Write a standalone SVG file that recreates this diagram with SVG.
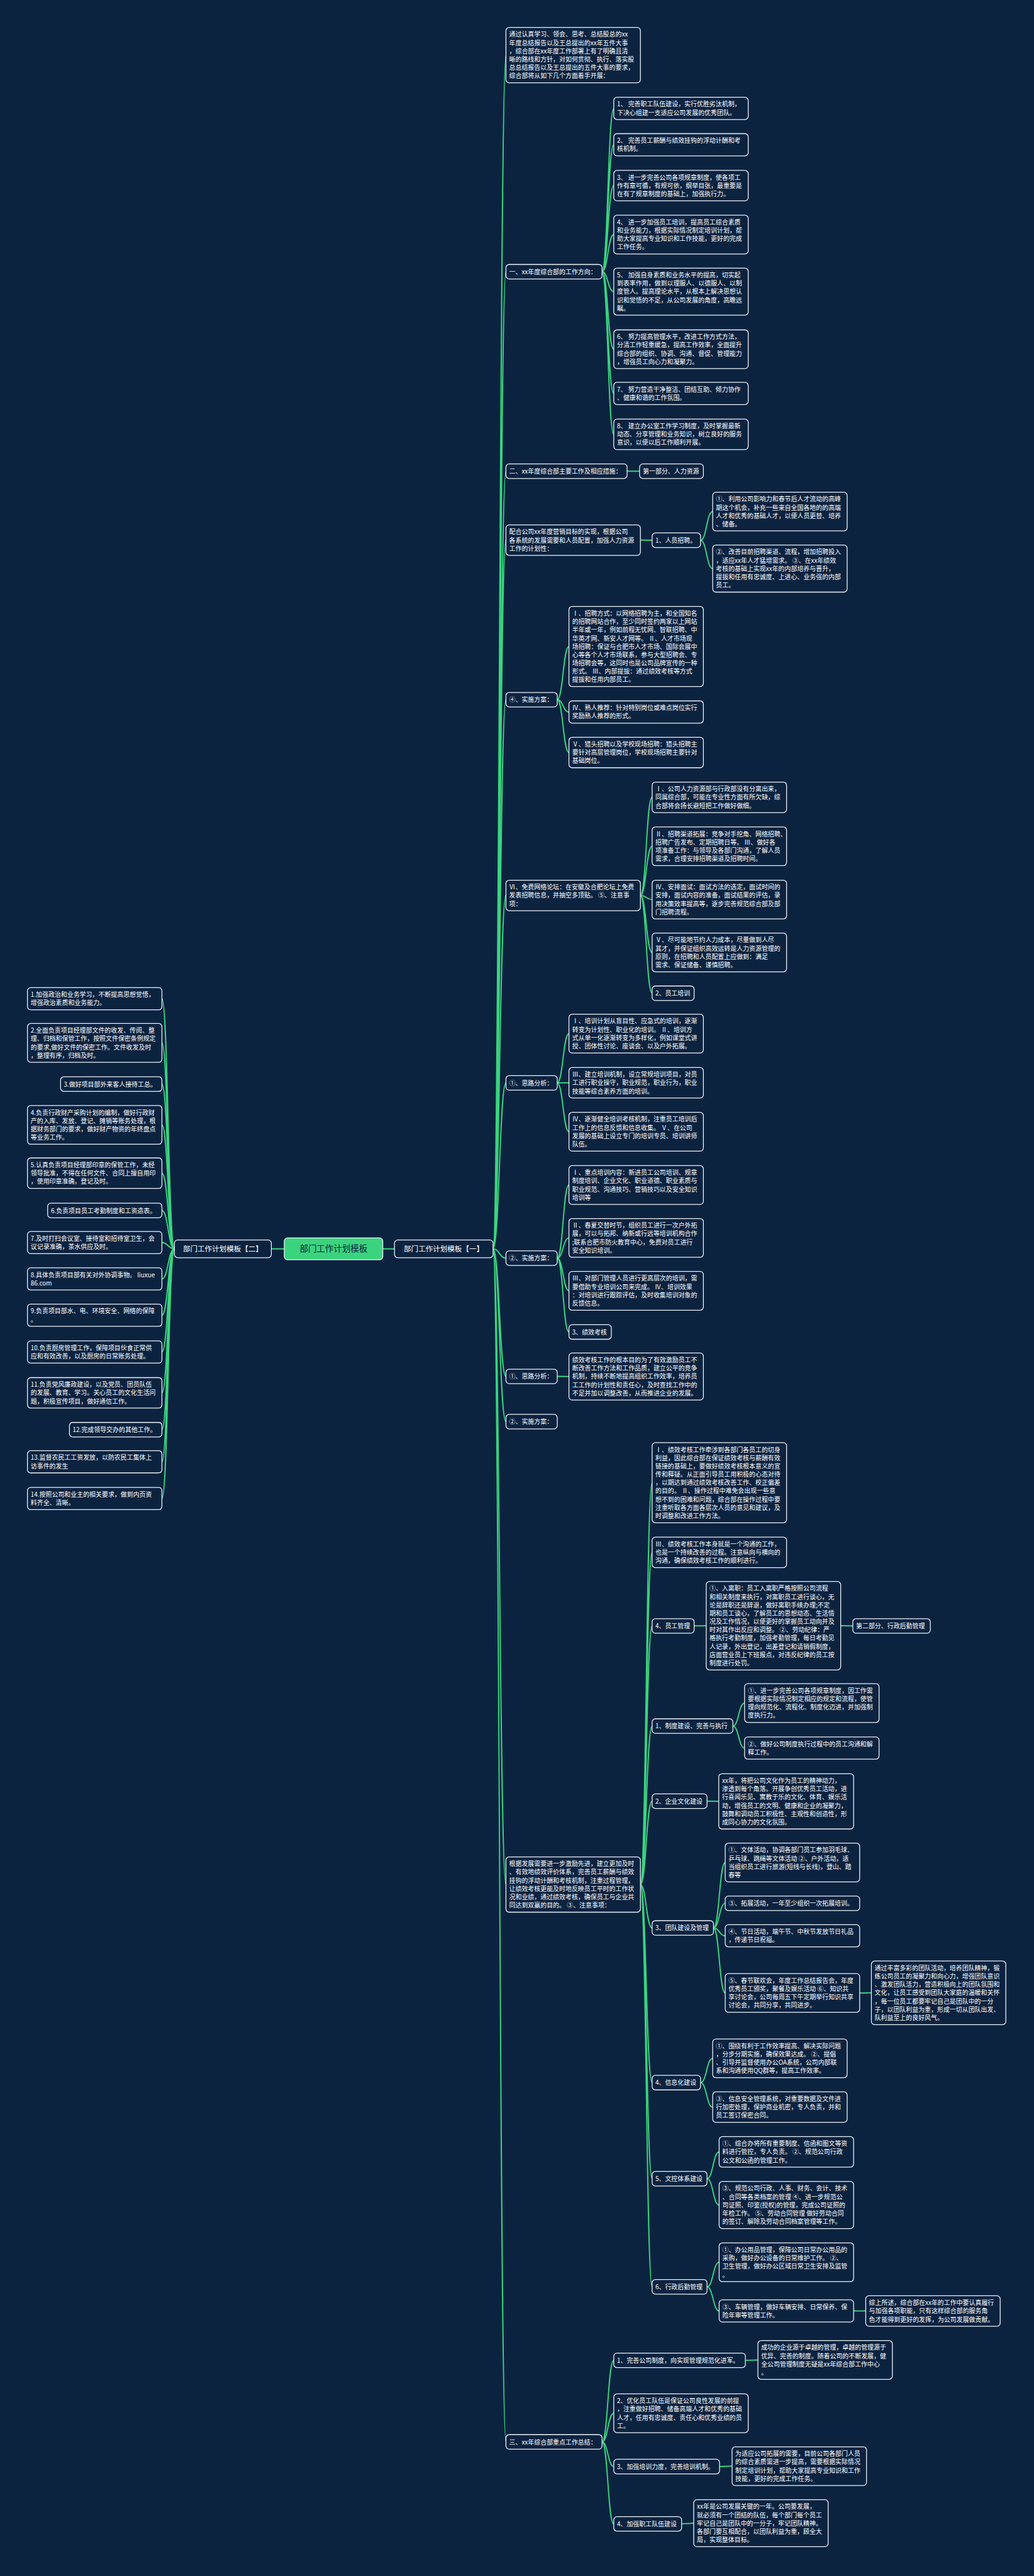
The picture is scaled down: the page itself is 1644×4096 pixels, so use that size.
<svg xmlns="http://www.w3.org/2000/svg" width="1644" height="4096" viewBox="0 0 1644 4096">
<style>
.n rect{fill:#0c2340;stroke:#eef3f8;stroke-width:2}
.n text{fill:#ffffff;font-family:"Noto Sans CJK SC","Noto Sans",sans-serif;font-size:15.5px}
.c path{fill:none;stroke:#3bd47e;stroke-width:3}
.big text{font-size:18px}
</style>
<rect x="0" y="0" width="1644" height="4096" fill="#0c2340"/>
<g transform="scale(0.642)">
<g id="connectors" class="c">
<path d="M704 3093L672 3093M948 3093L977 3093"/>
<path d="M1221 3093C1237 3093 1237 136.5 1253 136.5M1221 3093C1237 3093 1237 673 1253 673M1221 3093C1237 3093 1237 1167 1253 1167M1221 3093C1237 3093 1237 1337.75 1253 1337.75M1221 3093C1237 3093 1237 1733 1253 1733M1221 3093C1237 3093 1237 2217.75 1253 2217.75M1221 3093C1237 3093 1237 2682 1253 2682M1221 3093C1237 3093 1237 3116 1253 3116M1221 3093C1237 3093 1237 3409 1253 3409M1221 3093C1237 3093 1237 3521 1253 3521M1221 3093C1237 3093 1237 4667.5 1253 4667.5M1221 3093C1237 3093 1237 6048 1253 6048"/>
<path d="M1491 673C1505.5 673 1505.5 268.5 1520 268.5M1491 673C1505.5 673 1505.5 358.5 1520 358.5M1491 673C1505.5 673 1505.5 459.75 1520 459.75M1491 673C1505.5 673 1505.5 581 1520 581M1491 673C1505.5 673 1505.5 722.25 1520 722.25M1491 673C1505.5 673 1505.5 865 1520 865M1491 673C1505.5 673 1505.5 974.5 1520 974.5M1491 673C1505.5 673 1505.5 1075.75 1520 1075.75"/>
<path d="M1553 1167L1584 1167M1586 1337.75L1615 1338M1735 1338C1750 1338 1750 1267 1765 1267M1735 1338C1750 1338 1750 1408.25 1765 1408.25"/>
<path d="M1380 1733C1394.5 1733 1394.5 1601.25 1409 1601.25M1380 1733C1394.5 1733 1394.5 1763.5 1409 1763.5M1380 1733C1394.5 1733 1394.5 1863.75 1409 1863.75"/>
<path d="M1586 2217.75C1600.5 2217.75 1600.5 1974.75 1615 1974.75M1586 2217.75C1600.5 2217.75 1600.5 2096 1615 2096M1586 2217.75C1600.5 2217.75 1600.5 2228 1615 2228M1586 2217.75C1600.5 2217.75 1600.5 2359 1615 2359M1586 2217.75C1600.5 2217.75 1600.5 2460 1615 2460"/>
<path d="M1380 2682C1394.5 2682 1394.5 2560 1409 2560M1380 2682C1394.5 2682 1394.5 2681.75 1409 2681.75M1380 2682C1394.5 2682 1394.5 2803 1409 2803"/>
<path d="M1380 3116C1394.5 3116 1394.5 2935 1409 2935M1380 3116C1394.5 3116 1394.5 3066 1409 3066M1380 3116C1394.5 3116 1394.5 3197 1409 3197M1380 3116C1394.5 3116 1394.5 3299 1409 3299M1380 3409L1409 3409.25"/>
<path d="M1586 4667.5C1600.5 4667.5 1600.5 3672.25 1615 3672.25M1586 4667.5C1600.5 4667.5 1600.5 3844.75 1615 3844.75M1586 4667.5C1600.5 4667.5 1600.5 4027 1615 4027M1586 4667.5C1600.5 4667.5 1600.5 4275 1615 4275M1586 4667.5C1600.5 4667.5 1600.5 4461 1615 4461M1586 4667.5C1600.5 4667.5 1600.5 4775 1615 4775M1586 4667.5C1600.5 4667.5 1600.5 5158 1615 5158M1586 4667.5C1600.5 4667.5 1600.5 5396 1615 5396M1586 4667.5C1600.5 4667.5 1600.5 5664 1615 5664"/>
<path d="M1719 4027L1749 4026.5M2082 4026.5L2112 4027M1815 4275C1829.5 4275 1829.5 4218 1844 4218M1815 4275C1829.5 4275 1829.5 4329.5 1844 4329.5M1751 4461L1780 4461.5"/>
<path d="M1767 4775C1781.5 4775 1781.5 4613 1796 4613M1767 4775C1781.5 4775 1781.5 4714 1796 4714M1767 4775C1781.5 4775 1781.5 4794.5 1796 4794.5M1767 4775C1781.5 4775 1781.5 4936 1796 4936M2129 4936L2158 4935.75"/>
<path d="M1735 5158C1750 5158 1750 5098 1765 5098M1735 5158C1750 5158 1750 5218.75 1765 5218.75M1751 5396C1766 5396 1766 5329.75 1781 5329.75M1751 5396C1766 5396 1766 5461.25 1781 5461.25M1751 5664C1766 5664 1766 5603 1781 5603M1751 5664C1766 5664 1766 5723.5 1781 5723.5M2114 5723.5L2144 5723.75"/>
<path d="M1491 6048C1505.5 6048 1505.5 5846 1520 5846M1491 6048C1505.5 6048 1505.5 5977 1520 5977M1491 6048C1505.5 6048 1505.5 6109 1520 6109M1491 6048C1505.5 6048 1505.5 6251 1520 6251M1846 5846L1877 5845M1782 6109L1813 6108M1688 6251L1718 6249.25"/>
<path d="M432 3093C416.5 3093 416.5 2473.5 401 2473.5M432 3093C416.5 3093 416.5 2583 401 2583M432 3093C416.5 3093 416.5 2685 401 2685M432 3093C416.5 3093 416.5 2786 401 2786M432 3093C416.5 3093 416.5 2905.75 401 2905.75M432 3093C416.5 3093 416.5 2998 401 2998M432 3093C416.5 3093 416.5 3077.5 401 3077.5M432 3093C416.5 3093 416.5 3167.5 401 3167.5M432 3093C416.5 3093 416.5 3257.5 401 3257.5M432 3093C416.5 3093 416.5 3348.5 401 3348.5M432 3093C416.5 3093 416.5 3449.75 401 3449.75M432 3093C416.5 3093 416.5 3541 401 3541M432 3093C416.5 3093 416.5 3620.5 401 3620.5M432 3093C416.5 3093 416.5 3711.5 401 3711.5"/>
</g>

<g id="root" class="n big"><rect x="704" y="3066" width="244" height="54" rx="8" style="fill:#3bd47e"/><text x="826" y="3100" text-anchor="middle" style="font-size:21px;fill:#0c2340">部门工作计划模板</text></g>
<g id="q2" class="n big"><rect x="432" y="3071" width="240" height="44" rx="8"/><text x="552" y="3099" text-anchor="middle">部门工作计划模板【二】</text></g>
<g id="q1" class="n big"><rect x="977" y="3071" width="244" height="44" rx="8"/><text x="1099" y="3099" text-anchor="middle">部门工作计划模板【一】</text></g>

<g id="p1" class="n"><rect x="68" y="2446" width="333" height="55" rx="8"/><text x="76" y="2469"><tspan>1.加强政治和业务学习，不断提高思想觉悟，</tspan><tspan x="76" dy="20.5">增强政治素质和业务能力。</tspan></text></g>
<g id="p2" class="n"><rect x="68" y="2535" width="333" height="96" rx="8"/><text x="76" y="2558"><tspan>2.全面负责项目经理部文件的收发、传阅、整</tspan><tspan x="76" dy="20.5">理、归档和保管工作，按照文件保密条例规定</tspan><tspan x="76" dy="20.5">的要求,做好文件的保密工作。文件收发及时</tspan><tspan x="76" dy="20.5">，整理有序，归档及时。</tspan></text></g>
<g id="p3" class="n"><rect x="150" y="2667" width="251" height="36" rx="8"/><text x="158" y="2691">3.做好项目部外来客人接待工总。</text></g>
<g id="p4" class="n"><rect x="68" y="2738" width="333" height="96" rx="8"/><text x="76" y="2761"><tspan>4.负责行政财产采购计划的编制，做好行政财</tspan><tspan x="76" dy="20.5">产的入库、发放、登记、摊销等账务处理，根</tspan><tspan x="76" dy="20.5">据财务部门的要求，做好财产物资的年终盘点</tspan><tspan x="76" dy="20.5">等业务工作。</tspan></text></g>
<g id="p5" class="n"><rect x="68" y="2868" width="333" height="75.5" rx="8"/><text x="76" y="2891"><tspan>5.认真负责项目经理部印章的保管工作，未经</tspan><tspan x="76" dy="20.5">领导批准，不得在任何文件、合同上擅自用印</tspan><tspan x="76" dy="20.5">，使用印章准确，登记及时。</tspan></text></g>
<g id="p6" class="n"><rect x="118" y="2980" width="283" height="36" rx="8"/><text x="126" y="3004">6.负责项目员工考勤制度和工资造表。</text></g>
<g id="p7" class="n"><rect x="68" y="3050" width="333" height="55" rx="8"/><text x="76" y="3073"><tspan>7.及时打扫会议室、接待室和招待室卫生，会</tspan><tspan x="76" dy="20.5">议记录准确，茶水供应及时。</tspan></text></g>
<g id="p8" class="n"><rect x="68" y="3140" width="333" height="55" rx="8"/><text x="76" y="3163"><tspan>8.具体负责项目部有关对外协调事物。 liuxue</tspan><tspan x="76" dy="20.5">86.com</tspan></text></g>
<g id="p9" class="n"><rect x="68" y="3230" width="333" height="55" rx="8"/><text x="76" y="3253"><tspan>9.负责项目部水、电、环境安全、网络的保障</tspan><tspan x="76" dy="20.5">。</tspan></text></g>
<g id="p10" class="n"><rect x="68" y="3321" width="333" height="55" rx="8"/><text x="76" y="3344"><tspan>10.负责厨房管理工作，保障项目伙食正常供</tspan><tspan x="76" dy="20.5">应和有效改善，以及厨房的日常账务处理。</tspan></text></g>
<g id="p11" class="n"><rect x="68" y="3412" width="333" height="75.5" rx="8"/><text x="76" y="3435"><tspan>11.负责党风廉政建设，以及党员、团员队伍</tspan><tspan x="76" dy="20.5">的发展、教育、学习。关心员工的文化生活问</tspan><tspan x="76" dy="20.5">题，积极宣传项目，做好通信工作。</tspan></text></g>
<g id="p12" class="n"><rect x="172" y="3523" width="229" height="36" rx="8"/><text x="180" y="3547">12.完成领导交办的其他工作。</text></g>
<g id="p13" class="n"><rect x="68" y="3593" width="333" height="55" rx="8"/><text x="76" y="3616"><tspan>13.监督农民工工资发放，以防农民工集体上</tspan><tspan x="76" dy="20.5">访事件的发生</tspan></text></g>
<g id="p14" class="n"><rect x="68" y="3684" width="333" height="55" rx="8"/><text x="76" y="3707"><tspan>14.按照公司和业主的相关要求，做到内页资</tspan><tspan x="76" dy="20.5">料齐全、清晰。</tspan></text></g>

<g id="a0" class="n"><rect x="1253" y="68" width="333" height="137" rx="8"/><text x="1261" y="91"><tspan>通过认真学习、领会、思考、总结股总的xx</tspan><tspan x="1261" dy="20.5">年度总结报告以及王总提出的xx年五件大事</tspan><tspan x="1261" dy="20.5">，综合部在xx年度工作部署上有了明确且清</tspan><tspan x="1261" dy="20.5">晰的路线和方针，对如何贯彻、执行、落实股</tspan><tspan x="1261" dy="20.5">总总结报告以及王总提出的五件大事的要求，</tspan><tspan x="1261" dy="20.5">综合部将从如下几个方面着手开展：</tspan></text></g>
<g id="a1" class="n"><rect x="1253" y="655" width="238" height="36" rx="8"/><text x="1261" y="679">一、xx年度综合部的工作方向：</text></g>
<g id="c1" class="n"><rect x="1520" y="241" width="333" height="55" rx="8"/><text x="1528" y="264"><tspan>1、 完善职工队伍建设，实行优胜劣汰机制，</tspan><tspan x="1528" dy="20.5">下决心组建一支适应公司发展的优秀团队。</tspan></text></g>
<g id="c2" class="n"><rect x="1520" y="331" width="333" height="55" rx="8"/><text x="1528" y="354"><tspan>2、 完善员工薪酬与绩效挂钩的浮动计酬和考</tspan><tspan x="1528" dy="20.5">核机制。</tspan></text></g>
<g id="c3" class="n"><rect x="1520" y="422" width="333" height="75.5" rx="8"/><text x="1528" y="445"><tspan>3、 进一步完善公司各项规章制度，使各项工</tspan><tspan x="1528" dy="20.5">作有章可循，有规可依，纲举目张，最重要是</tspan><tspan x="1528" dy="20.5">在有了规章制度的基础上，加强执行力。</tspan></text></g>
<g id="c4" class="n"><rect x="1520" y="533" width="333" height="96" rx="8"/><text x="1528" y="556"><tspan>4、 进一步加强员工培训，提高员工综合素质</tspan><tspan x="1528" dy="20.5">和业务能力，根据实际情况制定培训计划，帮</tspan><tspan x="1528" dy="20.5">助大家提高专业知识和工作技能，更好的完成</tspan><tspan x="1528" dy="20.5">工作任务。</tspan></text></g>
<g id="c5" class="n"><rect x="1520" y="664" width="333" height="116.5" rx="8"/><text x="1528" y="687"><tspan>5、 加强自身素质和业务水平的提高，切实起</tspan><tspan x="1528" dy="20.5">到表率作用，做到以理服人、以德服人、以制</tspan><tspan x="1528" dy="20.5">度管人。提高理论水平，从根本上解决思想认</tspan><tspan x="1528" dy="20.5">识和觉悟的不足，从公司发展的角度，高瞻远</tspan><tspan x="1528" dy="20.5">瞩。</tspan></text></g>
<g id="c6" class="n"><rect x="1520" y="817" width="333" height="96" rx="8"/><text x="1528" y="840"><tspan>6、 努力提高管理水平，改进工作方式方法，</tspan><tspan x="1528" dy="20.5">分清工作轻重缓急，提高工作效率，全面提升</tspan><tspan x="1528" dy="20.5">综合部的组织、协调、沟通、督促、管理能力</tspan><tspan x="1528" dy="20.5">，增强员工向心力和凝聚力。</tspan></text></g>
<g id="c7" class="n"><rect x="1520" y="947" width="333" height="55" rx="8"/><text x="1528" y="970"><tspan>7、 努力营造干净整洁、团结互助、倾力协作</tspan><tspan x="1528" dy="20.5">、健康和谐的工作氛围。</tspan></text></g>
<g id="c8" class="n"><rect x="1520" y="1038" width="333" height="75.5" rx="8"/><text x="1528" y="1061"><tspan>8、 建立办公室工作学习制度，及时掌握最新</tspan><tspan x="1528" dy="20.5">动态、分享管理和业务知识，树立良好的服务</tspan><tspan x="1528" dy="20.5">意识，以便以后工作顺利开展。</tspan></text></g>

<g id="a2" class="n"><rect x="1253" y="1149" width="300" height="36" rx="8"/><text x="1261" y="1173">二、xx年度综合部主要工作及相应措施：</text></g>
<g id="b1" class="n"><rect x="1584" y="1149" width="158" height="36" rx="8"/><text x="1592" y="1173">第一部分、人力资源</text></g>
<g id="a3" class="n"><rect x="1253" y="1300" width="333" height="75.5" rx="8"/><text x="1261" y="1323"><tspan>配合公司xx年度营销目标的实现，根据公司</tspan><tspan x="1261" dy="20.5">各系统的发展需要和人员配置，加强人力资源</tspan><tspan x="1261" dy="20.5">工作的计划性：</tspan></text></g>
<g id="b2" class="n"><rect x="1615" y="1320" width="120" height="36" rx="8"/><text x="1623" y="1344">1、人员招聘。</text></g>
<g id="cc1" class="n"><rect x="1765" y="1219" width="333" height="96" rx="8"/><text x="1773" y="1242"><tspan>①、利用公司影响力和春节后人才流动的高峰</tspan><tspan x="1773" dy="20.5">期这个机会，补充一些来自全国各地的的高端</tspan><tspan x="1773" dy="20.5">人才和优秀的基础人才，以便人员更替、培养</tspan><tspan x="1773" dy="20.5">、储备。</tspan></text></g>
<g id="cc2" class="n"><rect x="1765" y="1350" width="333" height="116.5" rx="8"/><text x="1773" y="1373"><tspan>②、改善目前招聘渠道、流程，增加招聘投入</tspan><tspan x="1773" dy="20.5">，适应xx年人才猛增需求。 ③、在xx年绩效</tspan><tspan x="1773" dy="20.5">考核的基础上实现xx年的内部培养与晋升，</tspan><tspan x="1773" dy="20.5">提拔和任用有忠诚度、上进心、业务强的内部</tspan><tspan x="1773" dy="20.5">员工。</tspan></text></g>

<g id="a4" class="n"><rect x="1253" y="1715" width="127" height="36" rx="8"/><text x="1261" y="1739">④、实施方案：</text></g>
<g id="d1" class="n"><rect x="1409" y="1502" width="333" height="198.5" rx="8"/><text x="1417" y="1525"><tspan>Ⅰ、招聘方式：以网络招聘为主，和全国知名</tspan><tspan x="1417" dy="20.5">的招聘网站合作，至少同时签约两家以上网站</tspan><tspan x="1417" dy="20.5">半年或一年，例如前程无忧网、智联招聘、中</tspan><tspan x="1417" dy="20.5">华英才网、新安人才网等。 Ⅱ、人才市场现</tspan><tspan x="1417" dy="20.5">场招聘：保证与合肥市人才市场、国际会展中</tspan><tspan x="1417" dy="20.5">心等各个人才市场联系，参与大型招聘会、专</tspan><tspan x="1417" dy="20.5">场招聘会等，这同时也是公司品牌宣传的一种</tspan><tspan x="1417" dy="20.5">形式。 Ⅲ、内部提拔：通过绩效考核等方式</tspan><tspan x="1417" dy="20.5">提拔和任用内部员工。</tspan></text></g>
<g id="d2" class="n"><rect x="1409" y="1736" width="333" height="55" rx="8"/><text x="1417" y="1759"><tspan>Ⅳ、熟人推荐：针对特别岗位或难点岗位实行</tspan><tspan x="1417" dy="20.5">奖励熟人推荐的形式。</tspan></text></g>
<g id="d3" class="n"><rect x="1409" y="1826" width="333" height="75.5" rx="8"/><text x="1417" y="1849"><tspan>Ⅴ、猎头招聘以及学校现场招聘：猎头招聘主</tspan><tspan x="1417" dy="20.5">要针对高层管理岗位，学校现场招聘主要针对</tspan><tspan x="1417" dy="20.5">基础岗位。</tspan></text></g>

<g id="a5" class="n"><rect x="1253" y="2180" width="333" height="75.5" rx="8"/><text x="1261" y="2203"><tspan>Ⅵ、免费网络论坛：在安徽及合肥论坛上免费</tspan><tspan x="1261" dy="20.5">发表招聘信息，并抽空多顶贴。 ⑤、注意事</tspan><tspan x="1261" dy="20.5">项：</tspan></text></g>
<g id="e1" class="n"><rect x="1615" y="1937" width="333" height="75.5" rx="8"/><text x="1623" y="1960"><tspan>Ⅰ、公司人力资源部与行政部没有分离出来，</tspan><tspan x="1623" dy="20.5">同属综合部，可能在专业性方面有所欠缺，综</tspan><tspan x="1623" dy="20.5">合部将会扬长避短把工作做好做细。</tspan></text></g>
<g id="e2" class="n"><rect x="1615" y="2048" width="333" height="96" rx="8"/><text x="1623" y="2071"><tspan>Ⅱ、招聘渠道拓展：竞争对手挖角、网络招聘、</tspan><tspan x="1623" dy="20.5">招聘广告发布、定期招聘日等。 Ⅲ、做好各</tspan><tspan x="1623" dy="20.5">项准备工作：与领导及各部门沟通，了解人员</tspan><tspan x="1623" dy="20.5">需求，合理安排招聘渠道及招聘时间。</tspan></text></g>
<g id="e3" class="n"><rect x="1615" y="2180" width="333" height="96" rx="8"/><text x="1623" y="2203"><tspan>Ⅳ、安排面试：面试方法的选定，面试时间的</tspan><tspan x="1623" dy="20.5">安排，面试内容的准备，面试结果的评估，录</tspan><tspan x="1623" dy="20.5">用决策效率提高等，逐步完善规范综合部及部</tspan><tspan x="1623" dy="20.5">门招聘流程。</tspan></text></g>
<g id="e4" class="n"><rect x="1615" y="2311" width="333" height="96" rx="8"/><text x="1623" y="2334"><tspan>Ⅴ、尽可能地节约人力成本，尽量做到人尽</tspan><tspan x="1623" dy="20.5">其才，并保证组织高效运转是人力资源管理的</tspan><tspan x="1623" dy="20.5">原则，在招聘和人员配置上应做到：满足</tspan><tspan x="1623" dy="20.5">需求、保证储备、谨慎招聘。</tspan></text></g>
<g id="e5" class="n"><rect x="1615" y="2442" width="104" height="36" rx="8"/><text x="1623" y="2466">2、员工培训</text></g>

<g id="a6" class="n"><rect x="1253" y="2664" width="127" height="36" rx="8"/><text x="1261" y="2688">①、思路分析：</text></g>
<g id="f1" class="n"><rect x="1409" y="2512" width="333" height="96" rx="8"/><text x="1417" y="2535"><tspan>Ⅰ、培训计划从盲目性、应急式的培训，逐渐</tspan><tspan x="1417" dy="20.5">转变为计划性、职业化的培训。 Ⅱ、培训方</tspan><tspan x="1417" dy="20.5">式从单一化逐渐转变为多样化，例如课堂式讲</tspan><tspan x="1417" dy="20.5">授、团体性讨论、座谈会、以及户外拓展。</tspan></text></g>
<g id="f2" class="n"><rect x="1409" y="2644" width="333" height="75.5" rx="8"/><text x="1417" y="2667"><tspan>Ⅲ、建立培训机制，设立常规培训项目，对员</tspan><tspan x="1417" dy="20.5">工进行职业操守，职业规范，职业行为，职业</tspan><tspan x="1417" dy="20.5">技能等综合素养方面的培训。</tspan></text></g>
<g id="f3" class="n"><rect x="1409" y="2755" width="333" height="96" rx="8"/><text x="1417" y="2778"><tspan>Ⅳ、逐渐健全培训考核机制，注重员工培训后</tspan><tspan x="1417" dy="20.5">工作上的信息反馈和信息收集。 Ⅴ、在公司</tspan><tspan x="1417" dy="20.5">发展的基础上设立专门的培训专员、培训讲师</tspan><tspan x="1417" dy="20.5">队伍。</tspan></text></g>

<g id="a7" class="n"><rect x="1253" y="3098" width="127" height="36" rx="8"/><text x="1261" y="3122">②、实施方案：</text></g>
<g id="g1" class="n"><rect x="1409" y="2887" width="333" height="96" rx="8"/><text x="1417" y="2910"><tspan>Ⅰ、重点培训内容：新进员工公司培训、规章</tspan><tspan x="1417" dy="20.5">制度培训、企业文化、职业道德、职业素质与</tspan><tspan x="1417" dy="20.5">职业规范、沟通技巧、营销技巧以及安全知识</tspan><tspan x="1417" dy="20.5">培训等</tspan></text></g>
<g id="g2" class="n"><rect x="1409" y="3018" width="333" height="96" rx="8"/><text x="1417" y="3041"><tspan>Ⅱ、春夏交替时节，组织员工进行一次户外拓</tspan><tspan x="1417" dy="20.5">展，可以与拓邦、纳新或行远等培训机构合作</tspan><tspan x="1417" dy="20.5">;联系合肥市防火教育中心，免费对员工进行</tspan><tspan x="1417" dy="20.5">安全知识培训。</tspan></text></g>
<g id="g3" class="n"><rect x="1409" y="3149" width="333" height="96" rx="8"/><text x="1417" y="3172"><tspan>Ⅲ、对部门管理人员进行更高层次的培训，需</tspan><tspan x="1417" dy="20.5">要借助专业培训公司来完成。 Ⅳ、培训效果</tspan><tspan x="1417" dy="20.5">：对培训进行跟踪评估，及时收集培训对象的</tspan><tspan x="1417" dy="20.5">反馈信息。</tspan></text></g>
<g id="g4" class="n"><rect x="1409" y="3281" width="105" height="36" rx="8"/><text x="1417" y="3305">3、绩效考核</text></g>

<g id="a8" class="n"><rect x="1253" y="3391" width="127" height="36" rx="8"/><text x="1261" y="3415">①、思路分析：</text></g>
<g id="h1" class="n"><rect x="1409" y="3351" width="333" height="116.5" rx="8"/><text x="1417" y="3374"><tspan>绩效考核工作的根本目的为了有效激励员工不</tspan><tspan x="1417" dy="20.5">断改善工作方法和工作品质，建立公平的竞争</tspan><tspan x="1417" dy="20.5">机制，持续不断地提高组织工作效率，培养员</tspan><tspan x="1417" dy="20.5">工工作的计划性和责任心，及时查找工作中的</tspan><tspan x="1417" dy="20.5">不足并加以调整改善，从而推进企业的发展。</tspan></text></g>
<g id="a9" class="n"><rect x="1253" y="3503" width="127" height="36" rx="8"/><text x="1261" y="3527">②、实施方案：</text></g>

<g id="a10" class="n"><rect x="1253" y="4599" width="333" height="137" rx="8"/><text x="1261" y="4622"><tspan>根据发展需要进一步激励先进，建立更加及时</tspan><tspan x="1261" dy="20.5">、有效地绩效评价体系，完善员工薪酬与绩效</tspan><tspan x="1261" dy="20.5">挂钩的浮动计酬和考核机制，注重过程管理，</tspan><tspan x="1261" dy="20.5">让绩效考核更能及时地反映员工平时的工作状</tspan><tspan x="1261" dy="20.5">况和业绩，通过绩效考核，确保员工与企业共</tspan><tspan x="1261" dy="20.5">同达到双赢的目的。 ③、注意事项：</tspan></text></g>
<g id="i1" class="n"><rect x="1615" y="3573" width="333" height="198.5" rx="8"/><text x="1623" y="3596"><tspan>Ⅰ、绩效考核工作牵涉到各部门各员工的切身</tspan><tspan x="1623" dy="20.5">利益，因此综合部在保证绩效考核与薪酬有效</tspan><tspan x="1623" dy="20.5">链接的基础上，要做好绩效考核根本意义的宣</tspan><tspan x="1623" dy="20.5">传和释疑。从正面引导员工用积极的心态对待</tspan><tspan x="1623" dy="20.5">，以期达到通过绩效考核改善工作、校正偏差</tspan><tspan x="1623" dy="20.5">的目的。 Ⅱ、操作过程中难免会出现一些意</tspan><tspan x="1623" dy="20.5">想不到的困难和问题，综合部在操作过程中要</tspan><tspan x="1623" dy="20.5">注重听取各方面各层次人员的意见和建议，及</tspan><tspan x="1623" dy="20.5">时调整和改进工作方法。</tspan></text></g>
<g id="i2" class="n"><rect x="1615" y="3807" width="333" height="75.5" rx="8"/><text x="1623" y="3830"><tspan>Ⅲ、绩效考核工作本身就是一个沟通的工作，</tspan><tspan x="1623" dy="20.5">也是一个持续改善的过程。注意纵向与横向的</tspan><tspan x="1623" dy="20.5">沟通，确保绩效考核工作的顺利进行。</tspan></text></g>
<g id="i3" class="n"><rect x="1615" y="4009" width="104" height="36" rx="8"/><text x="1623" y="4033">4、员工管理</text></g>
<g id="j1" class="n"><rect x="1749" y="3917" width="333" height="219" rx="8"/><text x="1757" y="3940"><tspan>①、入离职：员工入离职严格按照公司流程</tspan><tspan x="1757" dy="20.5">和相关制度来执行，对离职员工进行谈心，无</tspan><tspan x="1757" dy="20.5">论是辞职还是辞退，做好离职手续办理;不定</tspan><tspan x="1757" dy="20.5">期和员工谈心，了解员工的思想动态、生活情</tspan><tspan x="1757" dy="20.5">况及工作情况，以便更好的掌握员工动向并及</tspan><tspan x="1757" dy="20.5">时对其作出反应和调整。 ②、劳动纪律：严</tspan><tspan x="1757" dy="20.5">格执行考勤制度，加强考勤管理，每日考勤见</tspan><tspan x="1757" dy="20.5">人记录，外出登记，出差登记和请销假制度，</tspan><tspan x="1757" dy="20.5">店面营业员上下班报点，对违反纪律的员工按</tspan><tspan x="1757" dy="20.5">制度进行处罚。</tspan></text></g>
<g id="k1" class="n"><rect x="2112" y="4009" width="192" height="36" rx="8"/><text x="2120" y="4033">第二部分、行政后勤管理</text></g>
<g id="i4" class="n"><rect x="1615" y="4257" width="200" height="36" rx="8"/><text x="1623" y="4281">1、制度建设、完善与执行</text></g>
<g id="j2" class="n"><rect x="1844" y="4170" width="333" height="96" rx="8"/><text x="1852" y="4193"><tspan>①、进一步完善公司各项规章制度，因工作需</tspan><tspan x="1852" dy="20.5">要根据实际情况制定相应的规定和流程，使管</tspan><tspan x="1852" dy="20.5">理向规范化、流程化、制度化迈进，并加强制</tspan><tspan x="1852" dy="20.5">度执行力。</tspan></text></g>
<g id="j3" class="n"><rect x="1844" y="4302" width="333" height="55" rx="8"/><text x="1852" y="4325"><tspan>②、做好公司制度执行过程中的员工沟通和解</tspan><tspan x="1852" dy="20.5">释工作。</tspan></text></g>
<g id="i5" class="n"><rect x="1615" y="4443" width="136" height="36" rx="8"/><text x="1623" y="4467">2、企业文化建设</text></g>
<g id="j4" class="n"><rect x="1780" y="4393" width="334" height="137" rx="8"/><text x="1788" y="4416"><tspan>xx年，将把公司文化作为员工的精神动力，</tspan><tspan x="1788" dy="20.5">渗透到每个角落。开展争创优秀员工活动，进</tspan><tspan x="1788" dy="20.5">行喜闻乐见、寓教于乐的文化、体育、娱乐活</tspan><tspan x="1788" dy="20.5">动，增强员工的文明、健康和企业的凝聚力，</tspan><tspan x="1788" dy="20.5">鼓舞和调动员工积极性、主观性和创造性，形</tspan><tspan x="1788" dy="20.5">成同心协力的文化氛围。</tspan></text></g>
<g id="i6" class="n"><rect x="1615" y="4757" width="152" height="36" rx="8"/><text x="1623" y="4781">3、团队建设及管理</text></g>
<g id="j5" class="n"><rect x="1796" y="4565" width="333" height="96" rx="8"/><text x="1804" y="4588"><tspan>①、文体活动，协调各部门员工参加羽毛球、</tspan><tspan x="1804" dy="20.5">乒乓球、跳绳等文体活动 ②、户外活动，适</tspan><tspan x="1804" dy="20.5">当组织员工进行旅游(短线与长线)，登山、踏</tspan><tspan x="1804" dy="20.5">春等</tspan></text></g>
<g id="j6" class="n"><rect x="1796" y="4696" width="333" height="36" rx="8"/><text x="1804" y="4720">③、拓展活动，一年至少组织一次拓展培训。</text></g>
<g id="j7" class="n"><rect x="1796" y="4767" width="333" height="55" rx="8"/><text x="1804" y="4790"><tspan>④、节日活动，端午节、中秋节发放节日礼品</tspan><tspan x="1804" dy="20.5">，传递节日祝福。</tspan></text></g>
<g id="j8" class="n"><rect x="1796" y="4888" width="333" height="96" rx="8"/><text x="1804" y="4911"><tspan>⑤、春节联欢会，年度工作总结报告会，年度</tspan><tspan x="1804" dy="20.5">优秀员工颁奖，聚餐及娱乐活动 ⑥、知识共</tspan><tspan x="1804" dy="20.5">享讨论会，公司每周五下午定期举行知识共享</tspan><tspan x="1804" dy="20.5">讨论会，共同分享，共同进步。</tspan></text></g>
<g id="k2" class="n"><rect x="2158" y="4857" width="333" height="157.5" rx="8"/><text x="2166" y="4880"><tspan>通过丰富多彩的团队活动，培养团队精神，锻</tspan><tspan x="2166" dy="20.5">练公司员工的凝聚力和向心力，增强团队意识</tspan><tspan x="2166" dy="20.5">、激发团队活力，营造积极向上的团队氛围和</tspan><tspan x="2166" dy="20.5">文化，让员工感受到团队大家庭的温暖和关怀</tspan><tspan x="2166" dy="20.5">，每一位员工都要牢记自己是团队中的一分</tspan><tspan x="2166" dy="20.5">子，以团队利益为重，形成一切从团队出发、</tspan><tspan x="2166" dy="20.5">队利益至上的良好风气。</tspan></text></g>
<g id="i7" class="n"><rect x="1615" y="5140" width="120" height="36" rx="8"/><text x="1623" y="5164">4、信息化建设</text></g>
<g id="j9" class="n"><rect x="1765" y="5050" width="333" height="96" rx="8"/><text x="1773" y="5073"><tspan>①、围绕有利于工作效率提高、解决实际问题</tspan><tspan x="1773" dy="20.5">，分步分期实施，确保效果达成。 ②、提倡</tspan><tspan x="1773" dy="20.5">、引导并监督使用办公OA系统，公司内部联</tspan><tspan x="1773" dy="20.5">系和沟通使用QQ群等，提高工作效率。</tspan></text></g>
<g id="j10" class="n"><rect x="1765" y="5181" width="333" height="75.5" rx="8"/><text x="1773" y="5204"><tspan>③、信息安全管理系统，对重要数据及文件进</tspan><tspan x="1773" dy="20.5">行加密处理，保护商业机密，专人负责，并和</tspan><tspan x="1773" dy="20.5">员工签订保密合同。</tspan></text></g>
<g id="i8" class="n"><rect x="1615" y="5378" width="136" height="36" rx="8"/><text x="1623" y="5402">5、文控体系建设</text></g>
<g id="j11" class="n"><rect x="1781" y="5292" width="333" height="75.5" rx="8"/><text x="1789" y="5315"><tspan>①、综合办将所有重要制度、信函和图文等资</tspan><tspan x="1789" dy="20.5">料进行管控，专人负责。 ②、规范公司行政</tspan><tspan x="1789" dy="20.5">公文和公函的管理工作。</tspan></text></g>
<g id="j12" class="n"><rect x="1781" y="5403" width="333" height="116.5" rx="8"/><text x="1789" y="5426"><tspan>③、规范公司行政、人事、财务、会计、技术</tspan><tspan x="1789" dy="20.5">、合同等各类档案的管理 ④、进一步规范公</tspan><tspan x="1789" dy="20.5">司证照、印鉴(授权)的管理，完成公司证照的</tspan><tspan x="1789" dy="20.5">年检工作。 ⑤、劳动合同管理 做好劳动合同</tspan><tspan x="1789" dy="20.5">的签订、解除及劳动合同档案管理等工作。</tspan></text></g>
<g id="i9" class="n"><rect x="1615" y="5646" width="136" height="36" rx="8"/><text x="1623" y="5670">6、行政后勤管理</text></g>
<g id="j13" class="n"><rect x="1781" y="5555" width="333" height="96" rx="8"/><text x="1789" y="5578"><tspan>①、办公用品管理，保障公司日常办公用品的</tspan><tspan x="1789" dy="20.5">采购，做好办公设备的日常维护工作。 ②、</tspan><tspan x="1789" dy="20.5">卫生管理，做好办公区域日常卫生安排及监管</tspan><tspan x="1789" dy="20.5">。</tspan></text></g>
<g id="j14" class="n"><rect x="1781" y="5696" width="333" height="55" rx="8"/><text x="1789" y="5719"><tspan>③、车辆管理，做好车辆安排、日常保养、保</tspan><tspan x="1789" dy="20.5">险年审等管理工作。</tspan></text></g>
<g id="k3" class="n"><rect x="2144" y="5686" width="333" height="75.5" rx="8"/><text x="2152" y="5709"><tspan>综上所述，综合部在xx年的工作中要认真履行</tspan><tspan x="2152" dy="20.5">与加强各项职能，只有这样综合部的服务角</tspan><tspan x="2152" dy="20.5">色才能得到更好的发挥，为公司发展做贡献。</tspan></text></g>

<g id="a11" class="n"><rect x="1253" y="6030" width="238" height="36" rx="8"/><text x="1261" y="6054">三、xx年综合部重点工作总结：</text></g>
<g id="l1" class="n"><rect x="1520" y="5828" width="326" height="36" rx="8"/><text x="1528" y="5852">1、完善公司制度，向实现管理规范化进军。</text></g>
<g id="m1" class="n"><rect x="1877" y="5797" width="333" height="96" rx="8"/><text x="1885" y="5820"><tspan>成功的企业源于卓越的管理，卓越的管理源于</tspan><tspan x="1885" dy="20.5">优异、完善的制度。随着公司的不断发展，健</tspan><tspan x="1885" dy="20.5">全公司管理制度无疑是xx年综合部工作中心</tspan><tspan x="1885" dy="20.5">。</tspan></text></g>
<g id="l2" class="n"><rect x="1520" y="5929" width="333" height="96" rx="8"/><text x="1528" y="5952"><tspan>2、优化员工队伍是保证公司良性发展的前提</tspan><tspan x="1528" dy="20.5">，注重做好招聘、储备高端人才和优秀的基础</tspan><tspan x="1528" dy="20.5">人才，任用有忠诚度、责任心和优秀业绩的员</tspan><tspan x="1528" dy="20.5">工。</tspan></text></g>
<g id="l3" class="n"><rect x="1520" y="6091" width="262" height="36" rx="8"/><text x="1528" y="6115">3、加强培训力度，完善培训机制。</text></g>
<g id="m2" class="n"><rect x="1813" y="6060" width="333" height="96" rx="8"/><text x="1821" y="6083"><tspan>为适应公司拓展的需要，目前公司各部门人员</tspan><tspan x="1821" dy="20.5">的综合素质需进一步提高，需要根据实际情况</tspan><tspan x="1821" dy="20.5">制定培训计划，帮助大家提高专业知识和工作</tspan><tspan x="1821" dy="20.5">技能，更好的完成工作任务。</tspan></text></g>
<g id="l4" class="n"><rect x="1520" y="6233" width="168" height="36" rx="8"/><text x="1528" y="6257">4、加强职工队伍建设</text></g>
<g id="m3" class="n"><rect x="1718" y="6191" width="333" height="116.5" rx="8"/><text x="1726" y="6214"><tspan>xx年是公司发展关键的一年。公司要发展，</tspan><tspan x="1726" dy="20.5">就必须有一个团结的队伍，每个部门每个员工</tspan><tspan x="1726" dy="20.5">牢记自己是团队中的一分子，牢记团队精神。</tspan><tspan x="1726" dy="20.5">各部门要互相配合，以团队利益为重，顾全大</tspan><tspan x="1726" dy="20.5">局，实现整体目标。</tspan></text></g>
</g>
</svg>
